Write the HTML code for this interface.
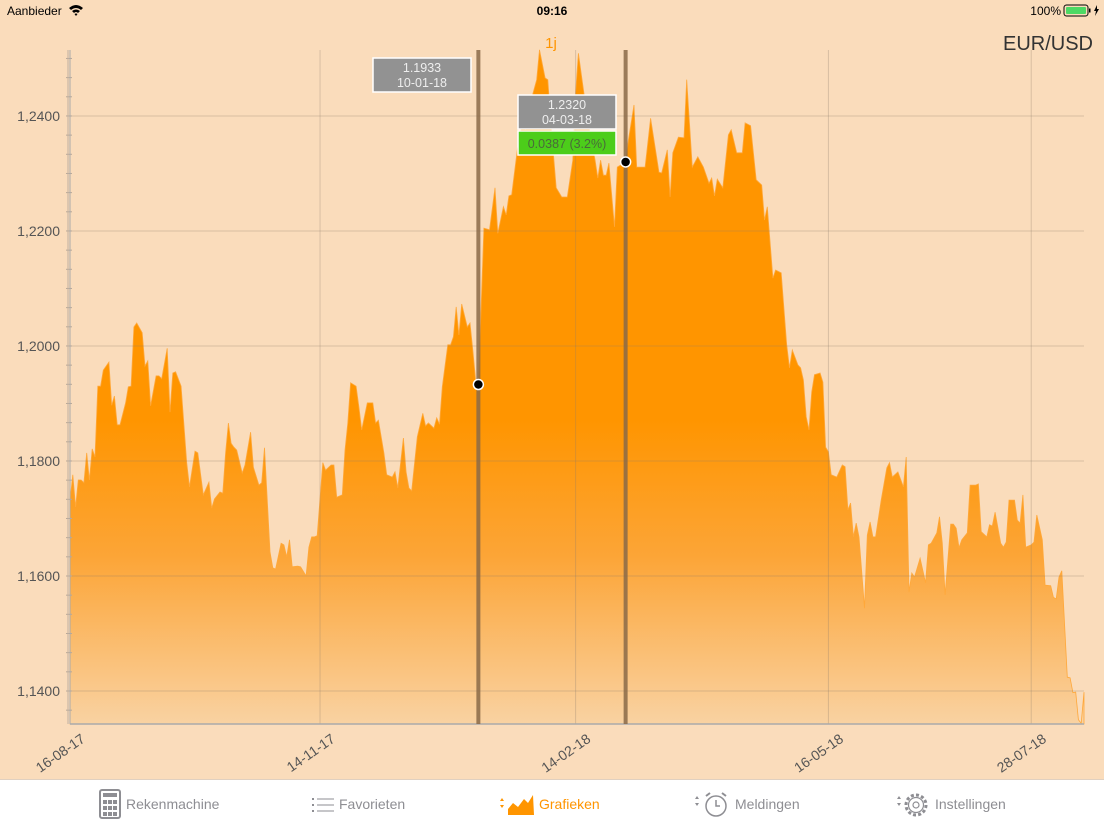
<!DOCTYPE html>
<html><head><meta charset="utf-8">
<style>
html,body{margin:0;padding:0;width:1104px;height:828px;overflow:hidden;background:#fadcbb;font-family:"Liberation Sans",sans-serif;}
#chart{position:absolute;left:0;top:0;}
.tab{position:absolute;top:779px;left:0;width:1104px;height:49px;background:#fff;border-top:1px solid #e0d0c0;}
.ti{position:absolute;top:16px;font-size:14px;color:#8e8e93;}
</style></head><body>
<svg id="chart" width="1104" height="779" xmlns="http://www.w3.org/2000/svg">
<defs>
<linearGradient id="fillg" gradientUnits="userSpaceOnUse" x1="0" y1="420" x2="0" y2="724">
<stop offset="0" stop-color="#ff9500"/>
<stop offset="0.45" stop-color="#fca537"/>
<stop offset="1" stop-color="#f9d2a2"/>
</linearGradient>
</defs>
<g id="area"></g>
<g id="grid"></g>
<g id="axes"></g>
<g id="sel"></g>
<text x="1093" y="50" text-anchor="end" font-size="20" fill="#333">EUR/USD</text>
<text x="551" y="48" text-anchor="middle" font-size="15" fill="#ff9500">1j</text>
<g>
<text x="7" y="15" font-size="12" fill="#000">Aanbieder</text>
<path d="M69 8 Q76 2 83 8 L81 10 Q76 6 71 10 Z M72 11 Q76 8 80 11 L78 13 Q76 11 74 13 Z M76 16 L74.5 14 Q76 13 77.5 14 Z" fill="#000"/>
<text x="552" y="15" font-size="12" font-weight="bold" text-anchor="middle" fill="#000">09:16</text>
<text x="1061" y="15" font-size="12" text-anchor="end" fill="#000">100%</text>
<rect x="1064" y="5" width="24" height="11" rx="2.5" fill="none" stroke="#000" stroke-width="1"/>
<rect x="1066" y="7" width="20" height="7" rx="1" fill="#4cd964"/>
<rect x="1089" y="8.5" width="1.5" height="4" fill="#000"/>
<path d="M1097 5 L1094 11 L1096 11 L1095 16 L1099 9 L1097 9 Z" fill="#000"/>
</g>
</svg>
<div class="tab">
<div>
<svg style="position:absolute;left:99px;top:9px" width="22" height="30"><rect x="1" y="1" width="20" height="28" rx="2" fill="none" stroke="#8e8e93" stroke-width="2"/><rect x="4" y="4" width="14" height="4" fill="#8e8e93"/><g fill="#8e8e93"><rect x="4" y="11" width="4" height="4"/><rect x="9" y="11" width="4" height="4"/><rect x="14" y="11" width="4" height="4"/><rect x="4" y="17" width="4" height="4"/><rect x="9" y="17" width="4" height="4"/><rect x="14" y="17" width="4" height="4"/><rect x="4" y="23" width="4" height="4"/><rect x="9" y="23" width="4" height="4"/><rect x="14" y="23" width="4" height="4"/></g></svg>
<span class="ti" style="left:126px">Rekenmachine</span></div>
<div>
<svg style="position:absolute;left:312px;top:17px" width="22" height="16"><g fill="#8e8e93"><rect x="0" y="1" width="2" height="2"/><rect x="0" y="7" width="2" height="2"/><rect x="0" y="13" width="2" height="2"/><rect x="5" y="1.5" width="17" height="1"/><rect x="5" y="7.5" width="17" height="1"/><rect x="5" y="13.5" width="17" height="1"/></g></svg>
<span class="ti" style="left:339px">Favorieten</span></div>
<div>
<svg style="position:absolute;left:500px;top:13px" width="36" height="24"><path d="M0 8 L2 5 L4 8 Z M0 12 L2 15 L4 12 Z" fill="#ff9500"/><path d="M8 22 L8 16 L13 10 L18 14 L24 6 L28 10 L33 2 L34 22 Z" fill="#ff9500"/></svg>
<span class="ti" style="left:539px;color:#ff9500">Grafieken</span></div>
<div>
<svg style="position:absolute;left:695px;top:11px" width="36" height="28"><path d="M0 8 L2 5 L4 8 Z M0 12 L2 15 L4 12 Z" fill="#8e8e93"/><circle cx="21" cy="15" r="10" fill="none" stroke="#8e8e93" stroke-width="1.5"/><path d="M21 9 L21 15 L25 15" fill="none" stroke="#8e8e93" stroke-width="1.5"/><path d="M11 5 L15 2 M31 5 L27 2" stroke="#8e8e93" stroke-width="2"/></svg>
<span class="ti" style="left:735px">Meldingen</span></div>
<div>
<svg style="position:absolute;left:897px;top:11px" width="34" height="28"><path d="M0 8 L2 5 L4 8 Z M0 12 L2 15 L4 12 Z" fill="#8e8e93"/><circle cx="19" cy="14" r="10" fill="none" stroke="#8e8e93" stroke-width="3" stroke-dasharray="3 2.2"/><circle cx="19" cy="14" r="7.5" fill="none" stroke="#8e8e93" stroke-width="1.2"/><circle cx="19" cy="14" r="3" fill="none" stroke="#8e8e93" stroke-width="1.2"/></svg>
<span class="ti" style="left:935px">Instellingen</span></div>
</div>
<script>
const days = [0,1,2,3,4,5,6,7,8,9,10,11,12,14,15,16,17,18,20,21,22,23,24,26,27,28,29,31,32,33,35,36,37,38,40,42,43,45,46,48,50,51,52,54,55,56,57,58,59,60,62,63,65,66,68,69,70,72,73,74,76,77,78,79,80,82,83,85,86,87,88,89,91,92,94,95,96,98,99,100,101,103,104,105,107,109,110,111,113,114,116,117,118,120,121,122,123,125,127,128,129,131,132,133,134,136,137,138,139,140,141,143,144,145,146,147,149,151,153,154,156,157,158,159,161,163,164,166,168,169,171,172,173,175,177,179,181,182,183,185,187,189,190,191,192,193,194,196,197,200,201,203,204,207,209,212,213,215,216,217,219,221,222,224,226,228,230,231,232,233,235,237,238,240,242,243,245,246,247,249,250,251,253,254,256,258,259,260,262,263,264,265,266,267,268,270,271,272,273,274,276,278,279,280,281,282,283,284,286,287,288,289,290,292,294,295,296,298,300,301,302,303,304,306,308,309,310,312,313,314,315,317,318,319,320,321,323,324,326,327,328,330,331,332,333,335,336,337,338,340,341,342,343,344,346,347,348,350,351,353,354,355,356,357,359,360,361,362,363,364,365];
const rates = [1.1732,1.1776,1.1720,1.1767,1.1767,1.1762,1.1814,1.1767,1.1821,1.1807,1.1930,1.1930,1.1958,1.1972,1.1897,1.1913,1.1863,1.1863,1.1901,1.1929,1.1930,1.2033,1.2040,1.2023,1.1965,1.1974,1.1896,1.1948,1.1948,1.1943,1.1996,1.1885,1.1953,1.1955,1.1930,1.1797,1.1755,1.1817,1.1814,1.1741,1.1763,1.1718,1.1734,1.1746,1.1744,1.1814,1.1866,1.1831,1.1824,1.1819,1.1779,1.1793,1.1850,1.1789,1.1758,1.1762,1.1823,1.1642,1.1614,1.1612,1.1657,1.1654,1.1633,1.1663,1.1616,1.1617,1.1616,1.1600,1.1650,1.1668,1.1668,1.1670,1.1797,1.1784,1.1793,1.1793,1.1737,1.1741,1.1819,1.1866,1.1936,1.1930,1.1894,1.1854,1.1901,1.1901,1.1866,1.1871,1.1814,1.1776,1.1772,1.1781,1.1753,1.1840,1.1781,1.1753,1.1748,1.1842,1.1883,1.1861,1.1866,1.1857,1.1875,1.1864,1.1929,1.2002,1.2002,1.2016,1.2068,1.2019,1.2073,1.2033,1.2040,1.1993,1.1941,1.1933,1.2205,1.2202,1.2275,1.2196,1.2242,1.2228,1.2261,1.2263,1.2341,1.2393,1.2376,1.2428,1.2463,1.2515,1.2466,1.2463,1.2393,1.2275,1.2259,1.2259,1.2323,1.2440,1.2509,1.2440,1.2376,1.2323,1.2292,1.2323,1.2297,1.2297,1.2318,1.2207,1.2311,1.2320,1.2358,1.2419,1.2311,1.2311,1.2396,1.2302,1.2301,1.2341,1.2259,1.2336,1.2363,1.2362,1.2463,1.2311,1.2329,1.2311,1.2283,1.2292,1.2261,1.2290,1.2275,1.2367,1.2376,1.2336,1.2336,1.2388,1.2383,1.2336,1.2289,1.2280,1.2219,1.2242,1.2118,1.2132,1.2127,1.2002,1.1962,1.1993,1.1967,1.1962,1.1941,1.1877,1.1854,1.1920,1.1950,1.1953,1.1937,1.1824,1.1816,1.1776,1.1772,1.1793,1.1790,1.1715,1.1727,1.1668,1.1692,1.1668,1.1544,1.1671,1.1694,1.1668,1.1668,1.1732,1.1788,1.1797,1.1772,1.1781,1.1755,1.1807,1.1572,1.1605,1.1598,1.1631,1.1588,1.1654,1.1657,1.1675,1.1703,1.1657,1.1567,1.1690,1.1690,1.1683,1.1649,1.1663,1.1675,1.1758,1.1758,1.1760,1.1677,1.1668,1.1689,1.1687,1.1711,1.1657,1.1650,1.1659,1.1732,1.1732,1.1697,1.1692,1.1741,1.1650,1.1654,1.1659,1.1706,1.1663,1.1584,1.1583,1.1563,1.1560,1.1598,1.1609,1.1424,1.1423,1.1397,1.1398,1.1350,1.1344,1.1398];
const yTicks = [1.14,1.16,1.18,1.20,1.22,1.24];
const yTickLabels = ["1,1400","1,1600","1,1800","1,2000","1,2200","1,2400"];
const xTickDays = [0,90,182,273,346];
const xTickLabels = ["16-08-17","14-11-17","14-02-18","16-05-18","28-07-18"];
const selDays = [147,200];
const selValues = [1.1933,1.2320];
const selDates = ["10-01-18","04-03-18"];
const selChange = "0.0387 (3.2%)";

const X0=70,X1=1084,Y0=724,Y1=50,DMAX=365,VMIN=1.13426,VMAX=1.25147;
const xs=d=>X0+(d/DMAX)*(X1-X0);
const ys=v=>Y0-(v-VMIN)/(VMAX-VMIN)*(Y0-Y1);
const NS="http://www.w3.org/2000/svg";
function mk(tag,attrs,parent){const e=document.createElementNS(NS,tag);for(const k in attrs)e.setAttribute(k,attrs[k]);parent.appendChild(e);return e;}
const grid=document.getElementById('grid'),area=document.getElementById('area'),axes=document.getElementById('axes'),sel=document.getElementById('sel');

yTicks.forEach((v,i)=>{
 const l=mk('line',{x1:X0,x2:X1,y1:ys(v),y2:ys(v),stroke:'#8a7a6a','stroke-opacity':0.3,'stroke-width':1},grid);
 
 
 const t=mk('text',{x:60,y:ys(v)+5,'text-anchor':'end','font-size':14,fill:'#555'},axes);
 t.textContent=yTickLabels[i];
 
 
});
xTickDays.forEach((d,i)=>{
 if(d>0){const l=mk('line',{x1:xs(d),x2:xs(d),y1:Y1,y2:Y0,stroke:'#8a7a6a','stroke-opacity':0.3,'stroke-width':1},grid);
 
 }
 const t=mk('text',{x:0,y:0,'text-anchor':'end','font-size':14,fill:'#555',transform:`translate(${xs(d)+16},${Y0+17}) rotate(-35)`},axes);
 t.textContent=xTickLabels[i];
 
 
});
const step=(yTicks[1]-yTicks[0])/6;
for(let v=yTicks[0]-step*1;v<=VMAX;v+=step){
 const y=ys(v); if(y>Y0||y<Y1) continue;
 mk('line',{x1:66,x2:72,y1:y,y2:y,stroke:'#b8a898','stroke-width':1},axes);
}
let d=`M${xs(days[0])},${Y0}`;
days.forEach((dd,i)=>{d+=` L${xs(dd).toFixed(1)},${ys(rates[i]).toFixed(1)}`;});
d+=` L${xs(days[days.length-1])},${Y0} Z`;
const p=mk('path',{d:d,fill:'url(#fillg)',stroke:'#ffa83a','stroke-width':0.8},area);


mk('line',{x1:X0,x2:X0,y1:Y1,y2:Y0,stroke:'#aaa','stroke-width':1},axes);
mk('line',{x1:X0-2,x2:X0-2,y1:Y1,y2:Y0,stroke:'#c0b0a0','stroke-width':1},axes);
mk('line',{x1:X0,x2:X1,y1:Y0,y2:Y0,stroke:'#aaa','stroke-width':1.5},axes);

selDays.forEach((dd,i)=>{
 const l=mk('line',{x1:xs(dd),x2:xs(dd),y1:Y1,y2:Y0,stroke:'#8a6a48','stroke-opacity':0.85,'stroke-width':4},sel);
 
 
});
const boxes=[[373,58],[518,95]];
selDays.forEach((dd,i)=>{
 const [bx,by]=boxes[i];
 const r=mk('rect',{x:bx,y:by,width:98,height:34,fill:'#929292',stroke:'#fff','stroke-width':1.5},sel);
 
 
 const t1=mk('text',{x:bx+49,y:by+14,'text-anchor':'middle','font-size':12.5,fill:'#eee'},sel);t1.textContent=selValues[i].toFixed(4);
 const t2=mk('text',{x:bx+49,y:by+29,'text-anchor':'middle','font-size':12.5,fill:'#eee'},sel);t2.textContent=selDates[i];
});
const g=mk('rect',{x:518,y:131,width:98,height:24,fill:'#4ccd1a',stroke:'#fff','stroke-width':1.5},sel);


const gt=mk('text',{x:567,y:148,'text-anchor':'middle','font-size':12.5,fill:'#4a6a3a'},sel);gt.textContent=selChange;
selDays.forEach((dd,i)=>{
 const c=mk('circle',{cx:xs(dd),cy:ys(selValues[i]),r:5,fill:'#000',stroke:'#fff','stroke-width':1.5},sel);
 
 
});
</script>
</body></html>
